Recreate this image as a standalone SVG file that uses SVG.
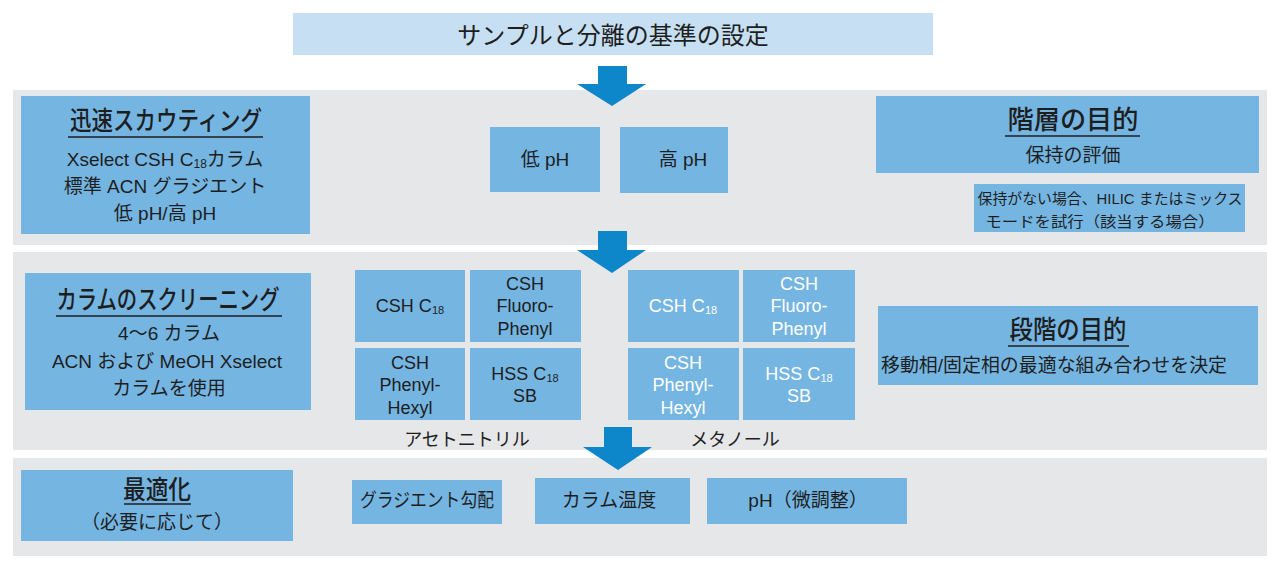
<svg xmlns="http://www.w3.org/2000/svg" width="1280" height="572" viewBox="0 0 1280 572">
<defs>
<style>
text{font-family:"Liberation Sans","Noto Sans CJK JP",sans-serif;fill:#1e1e1e;text-anchor:middle;dominant-baseline:central}
.band{fill:#e6e7e9}
.box{fill:#75b5e2}
.top{fill:#c6dff2}
.arrow{fill:#0e86ca}
.t24{font-size:24px}
.h{font-size:26px;font-weight:500}
.m{font-size:19px}
.s{font-size:18px}
.xs{font-size:15px}
.w{fill:#ffffff}
.ul{stroke:#1e1e1e;stroke-width:1.5}
</style>
</defs>
<rect width="1280" height="572" fill="#ffffff"/>
<g id="bands">
<rect class="band" x="13" y="90" width="1254" height="155"/>
<rect class="band" x="13" y="252" width="1254" height="198"/>
<rect class="band" x="13" y="458" width="1254" height="98"/>
</g>
<g id="start">
<rect class="top" x="293" y="13" width="640" height="42"/>
<text class="t24" x="613" y="35">サンプルと分離の基準の設定</text>
</g>
<g id="connectors">
<polygon class="arrow" points="598,66 627,66 627,84 646,84 612,106 577,84 598,84"/>
<polygon class="arrow" points="598,231 627,231 627,250 646,250 612,273 577,250 598,250"/>
<polygon class="arrow" points="604,427 632,427 632,447 652,447 618,470 583,447 604,447"/>
</g>
<g id="scouting">
<rect class="box" x="21" y="96" width="289" height="138"/>
<text class="h" x="166" y="121" textLength="192" lengthAdjust="spacingAndGlyphs">迅速スカウティング</text>
<line class="ul" x1="68" y1="137" x2="263" y2="137"/>
<text class="m" x="165" y="159">Xselect CSH C<tspan font-size="12" dy="5">18</tspan><tspan dy="-5">カラム</tspan></text>
<text class="m" x="165" y="186">標準 ACN グラジエント</text>
<text class="m" x="165" y="213">低 pH/高 pH</text>
</g>
<g id="lowph">
<rect class="box" x="490" y="127" width="110" height="65"/>
<text class="m" x="545" y="159">低 pH</text>
</g>
<g id="highph">
<rect class="box" x="620" y="127" width="108" height="66"/>
<text class="m" x="683" y="159">高 pH</text>
</g>
<g id="tier-goal">
<rect class="box" x="876" y="96" width="383" height="77"/>
<text class="h" x="1073" y="120" textLength="131" lengthAdjust="spacingAndGlyphs">階層の目的</text>
<line class="ul" x1="1005" y1="136" x2="1140" y2="136"/>
<text class="m" x="1073" y="155">保持の評価</text>
</g>
<g id="hilic">
<rect class="box" x="974" y="184" width="271" height="48"/>
<text class="xs" x="1110" y="198" textLength="265" lengthAdjust="spacingAndGlyphs">保持がない場合、HILIC またはミックス</text>
<text class="xs" x="1100" y="221" textLength="229" lengthAdjust="spacingAndGlyphs">モードを試行（該当する場合）</text>
</g>
<g id="screening">
<rect class="box" x="25" y="273" width="286" height="137"/>
<text class="h" x="168" y="300" textLength="223" lengthAdjust="spacingAndGlyphs">カラムのスクリーニング</text>
<line class="ul" x1="56" y1="316" x2="282" y2="316"/>
<text class="m" x="169" y="333">4〜6 カラム</text>
<text class="m" x="167" y="361">ACN および MeOH Xselect</text>
<text class="m" x="169" y="388">カラムを使用</text>
</g>
<g id="acn">
<rect class="box" x="355" y="270" width="110" height="72"/>
<text class="s" x="410" y="306">CSH C<tspan font-size="11" dy="4">18</tspan></text>
<rect class="box" x="470" y="270" width="111" height="72"/>
<text class="s" x="525" y="284">CSH</text>
<text class="s" x="525" y="306">Fluoro-</text>
<text class="s" x="525" y="329">Phenyl</text>
<rect class="box" x="355" y="348" width="110" height="72"/>
<text class="s" x="410" y="363">CSH</text>
<text class="s" x="410" y="385">Phenyl-</text>
<text class="s" x="410" y="408">Hexyl</text>
<rect class="box" x="470" y="348" width="111" height="72"/>
<text class="s" x="525" y="374">HSS C<tspan font-size="11" dy="4">18</tspan></text>
<text class="s" x="525" y="396">SB</text>
<text class="s" x="467" y="440">アセトニトリル</text>
</g>
<g id="meoh">
<rect class="box" x="628" y="270" width="111" height="72"/>
<text class="s w" x="683" y="306">CSH C<tspan font-size="11" dy="4">18</tspan></text>
<rect class="box" x="743" y="270" width="112" height="72"/>
<text class="s w" x="799" y="284">CSH</text>
<text class="s w" x="799" y="306">Fluoro-</text>
<text class="s w" x="799" y="329">Phenyl</text>
<rect class="box" x="628" y="348" width="111" height="72"/>
<text class="s w" x="683" y="363">CSH</text>
<text class="s w" x="683" y="385">Phenyl-</text>
<text class="s w" x="683" y="408">Hexyl</text>
<rect class="box" x="743" y="348" width="112" height="72"/>
<text class="s w" x="799" y="374">HSS C<tspan font-size="11" dy="4">18</tspan></text>
<text class="s w" x="799" y="396">SB</text>
<text class="s" x="735" y="440">メタノール</text>
</g>
<g id="stage-goal">
<rect class="box" x="878" y="306" width="380" height="79"/>
<text class="h" x="1068" y="330" textLength="117" lengthAdjust="spacingAndGlyphs">段階の目的</text>
<line class="ul" x1="1008" y1="346" x2="1129" y2="346"/>
<text class="m" x="1054" y="365" textLength="346" lengthAdjust="spacingAndGlyphs">移動相/固定相の最適な組み合わせを決定</text>
</g>
<g id="optimization">
<rect class="box" x="21" y="470" width="272" height="71"/>
<text class="h" x="157" y="490" textLength="68" lengthAdjust="spacingAndGlyphs">最適化</text>
<line class="ul" x1="124" y1="504" x2="191" y2="504"/>
<text class="m" x="157" y="522">（必要に応じて）</text>
</g>
<g id="gradient">
<rect class="box" x="352" y="480" width="150" height="44"/>
<text class="m" x="427" y="500" textLength="134" lengthAdjust="spacingAndGlyphs">グラジエント勾配</text>
</g>
<g id="temp">
<rect class="box" x="535" y="478" width="155" height="46"/>
<text class="m" x="609" y="500">カラム温度</text>
</g>
<g id="ph-fine">
<rect class="box" x="707" y="478" width="200" height="46"/>
<text class="m" x="808" y="500">pH（微調整）</text>
</g>
</svg>
